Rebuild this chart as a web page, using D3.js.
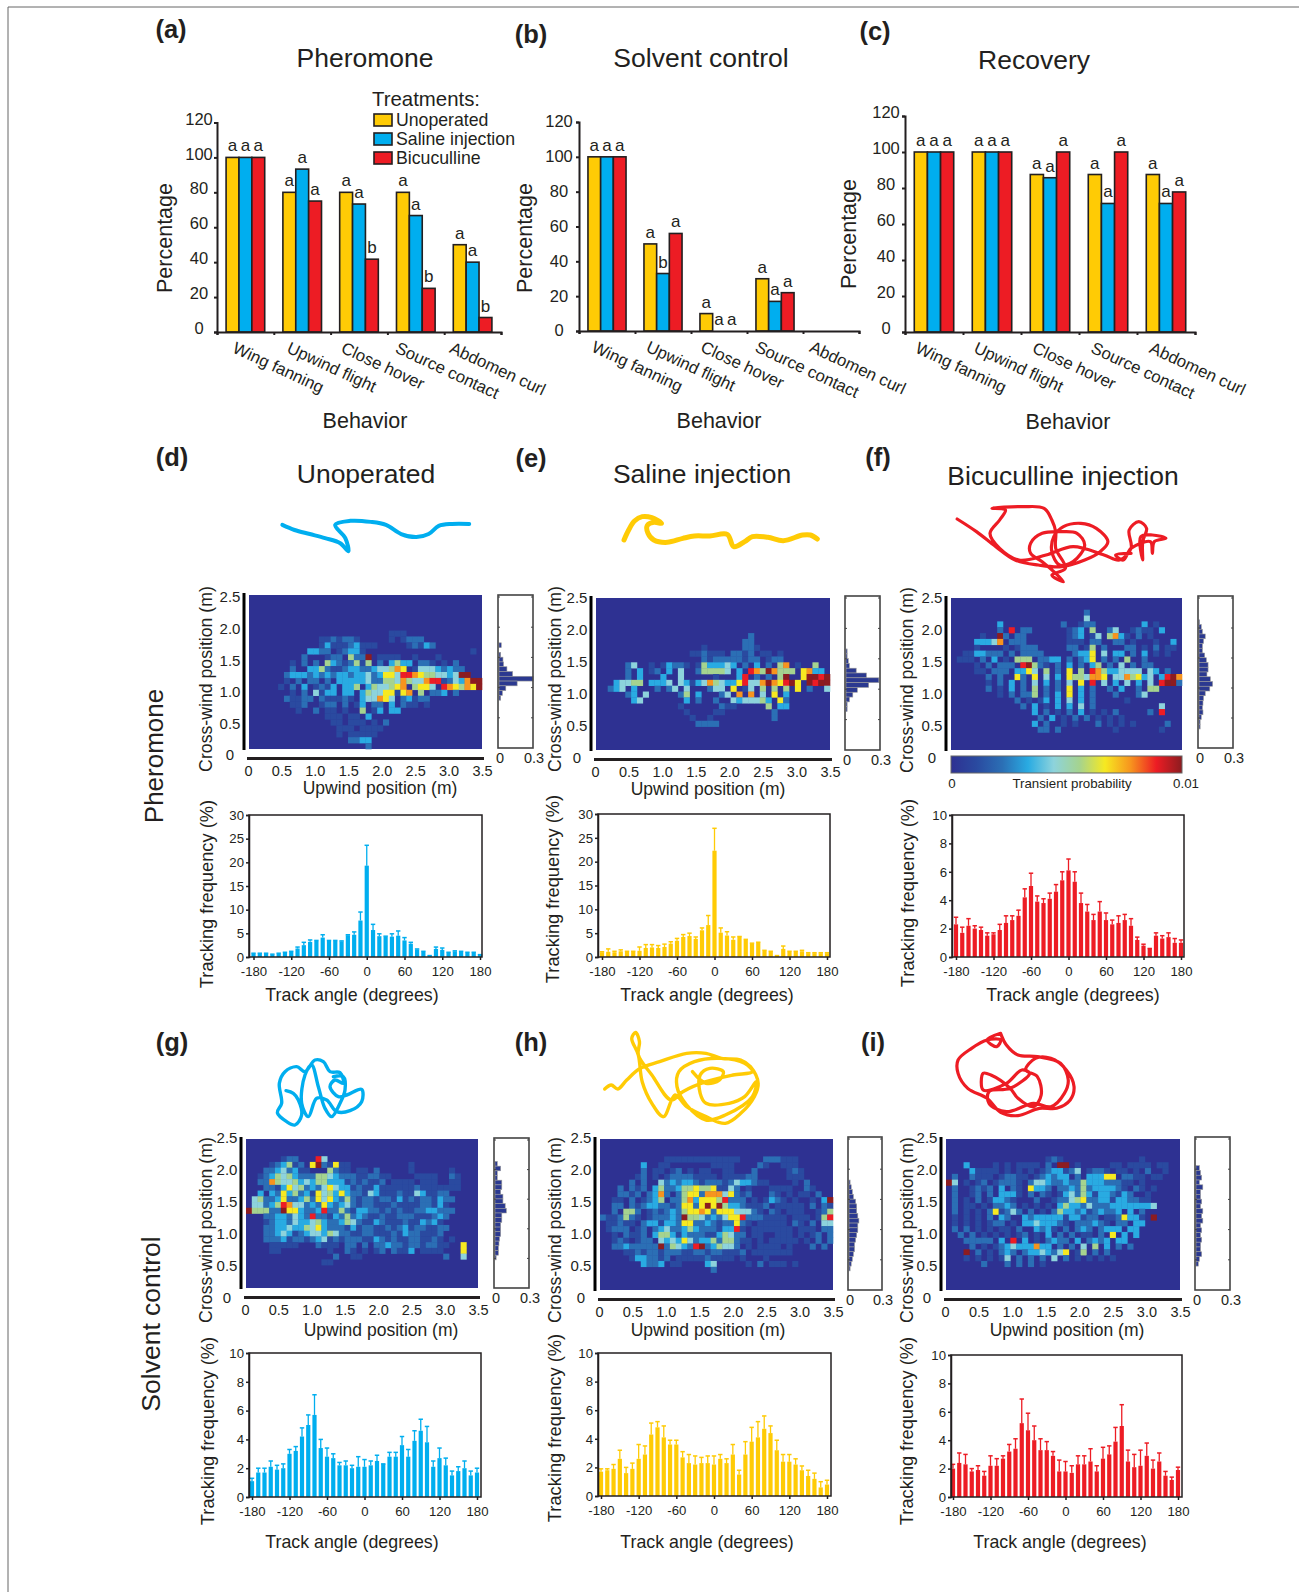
<!DOCTYPE html>
<html>
<head>
<meta charset="utf-8">
<script src="https://cdn.jsdelivr.net/npm/d3@7"></script>
<style>
    html, body { margin: 0; padding: 0; background: #fff; }
    text { font-family: "Liberation Sans", Arial, sans-serif; fill: #231f20; }
</style>
</head>
<body>
<div id="chart"></div>
<script>
// ---- bar chart data (panels a, b, c)
const behaviors = ["Wing fanning", "Upwind flight", "Close hover", "Source contact", "Abdomen curl"];
const treatments = ["Unoperated", "Saline injection", "Bicuculline"];
const percentTicks = [0, 20, 40, 60, 80, 100, 120];

const pheromoneUnoperated = [100, 80, 80, 80, 50];
const pheromoneSaline = [100, 93.3, 73.3, 66.7, 40];
const pheromoneBicuculline = [100, 75, 41.7, 25, 8.3];
const pheromoneLetters = ["aaa", "aaa", "aab", "aab", "aab"];

const solventUnoperated = [100, 50, 10, 30, 0];
const solventSaline = [100, 33, 0, 17, 0];
const solventBicuculline = [100, 56, 0, 22, 0];
const solventLetters = ["aaa", "aba", "aaa", "aaa", "   "];

const recoveryUnoperated = [100, 100, 87.5, 87.5, 87.5];
const recoverySaline = [100, 100, 85.7, 71.4, 71.4];
const recoveryBicuculline = [100, 100, 100, 100, 77.8];
const recoveryLetters = ["aaa", "aaa", "aaa", "aaa", "aaa"];

// ---- tracking frequency, one value per 10 degree bin from -180 to 180
const angleTicks = [-180, -120, -60, 0, 60, 120, 180];
const freqD = [.7,.7,.7,.5,.7,.9,1.1,1.8,2.5,3.2,3.4,4.1,3.4,3.4,3.3,4.6,4.7,7.7,19.3,5.7,4.4,4.3,4.3,4.5,3.5,2.8,1.6,1.1,.3,1.7,1.5,.9,1.2,1.1,.9,.9,.5];
const errD  = [.8,.8,.8,.6,.8,1,1.2,2.1,3.1,3.6,3.5,4.7,3.5,3.5,3.4,4.7,5.3,9.5,23.6,6.9,4.9,4.4,4.9,5.5,4.1,3.1,1.7,1.2,.3,2.1,1.9,1,1.3,1.2,1,1,.5];
const freqE = [1,1.1,1,1.2,1.1,1.1,1.3,1.9,2,1.9,2.1,2.8,3.4,4.2,4.4,3.8,5.6,6.7,22.3,5.1,4.5,3.6,4.3,3.6,2.8,3,1.3,1.1,.3,1.7,1.1,1.1,1.2,.8,.8,.8,.8];
const errE  = [1.1,1.7,1.2,1.5,1.2,1.2,2.1,2.6,2.6,2.4,2.7,3.2,3.9,4.7,5,4.2,6.1,8.7,27,6.1,5.3,4.2,4.3,3.7,2.9,3.1,1.4,1.2,.3,2.3,1.2,1.2,1.4,.9,.9,.9,.9];
const freqF = [2.3,1.7,2.2,2,1.9,1.5,1.6,1.9,2.4,2.6,2.9,4.2,5,3.9,3.8,4.1,4.6,5.4,6.1,5.3,3.8,3.2,2.6,3.2,2.6,2.3,2.4,2.6,2.2,1.2,.8,.6,1.5,1.3,1.4,1,1];
const errF  = [2.8,2.1,2.7,2.2,2.1,1.7,1.7,2.3,2.9,2.9,3.3,4.8,5.9,4.3,4.1,4.5,5.1,6,6.9,6,4.5,3.7,3,3.9,3.1,2.6,2.9,3,2.7,1.4,.9,.6,1.7,1.5,1.7,1.3,1.2];
const freqG = [1.1,1.7,1.7,2.1,1.9,2,3,3.2,4.2,5,5.7,3.4,2.8,2.7,2.2,2.2,2,2.1,2.1,2.2,2.5,2.3,2.8,2.8,3.6,2.8,3.9,4.6,3.8,2.1,2.7,2.2,1.5,1.8,2,1.5,1.7];
const errG  = [1.3,2,2,2.5,2.2,2.3,3.3,3.5,4.8,5.7,7.1,4,3.4,3,2.4,2.5,2.2,2.8,2.6,2.5,2.9,2.3,3.1,3.1,4.2,3.3,4.6,5.4,4.9,2.5,3.4,2.7,1.8,2.1,2.5,1.8,2];
const freqH = [1.7,1.8,1.9,2.6,1.6,1.9,2.6,2.9,4.3,4.8,4.1,3.6,3.6,2.7,2.3,2.2,2.3,2.3,2.2,2.6,2.3,2.9,1.5,2.9,3.8,4.1,4.7,4.4,3.2,2.4,2.4,2.2,1.8,1.4,1.2,.6,.8];
const errH  = [1.9,1.9,2.2,3.2,2,2.3,3.6,3.5,5.1,5.2,4.9,3.9,3.9,3.1,2.9,2.8,2.7,2.8,2.8,2.9,2.6,3.6,1.8,3.8,4.8,5.2,5.6,4.9,3.9,2.9,2.9,2.6,2.1,1.8,1.6,1,1.1];
const freqI = [2,2.4,2.3,1.8,1.9,1.5,2.2,2.2,2.7,3.2,3.4,5.2,4.7,4,3.3,3.3,2.9,1.8,1.8,1.7,2.3,2.3,2.5,1.8,2.7,3,3.9,5,2.5,2.1,2.2,2.9,2,2.5,1.5,1.2,1.9];
const errI  = [2.3,3.1,3,2,2.2,1.8,2.9,2.7,2.9,3.7,4.1,6.9,5.9,5,4.1,3.9,3.2,2.6,2.5,2.2,2.9,2.9,3.4,2.2,3.5,3.6,4.9,6.5,3.3,3,3.3,3.8,2.6,3.1,1.8,1.4,2.1];

// ---- transient probability maps, top row first, '.' = 0 and 1-9 = level on the colour bar
const mapD = [
"","","","","","",
"........................111.............",
"............1121221.....1.1222..........",
"............1311123111.....12132........",
"..........3322.12331..................1.",
".........2...122.5229.1111..1...1.......",
".......1.2.2.53212515.2.3533.221.1.2....",
".......2..33521123322344576.144432322...",
"......23332323233233423664887655443499..",
"......1.2.22.2.33333422554754478812437998",
".....1.2.3.1213.335.3544567.5664.8765769",
".......1.2.4133.33.354466167.5.223.2....",
"......21122.211121.344764.23122.........",
".......112..122.2.13.22.3.211.1.........",
"........1..2.11.1..5.13.33..............",
".............111.11.3...................",
"..............11.111.1.2................",
"...............111.1111.................",
"...............1.11111..................",
".................2233...................",
"....................2..................."
];
const mapE = [
"","","","","","",
"..........................2.............",
".........................22.............",
"..................1......221............",
"................112111.2212.11.1........",
"..................2122222122.122........",
".....24..1.13221.1533343.2.3.2.57.1..5..",
".....2.3.12.3.4..255554.3.87597555.6733.",
".....2.3...3..4.....1...38.2.2.59..69989",
"...34455.3334.431347543368447976896.9899",
"..234.3...2.24.4...244.6.14.5.5.5.6.2..4",
".....23.4.....25.3...24.7.7.4.6.3.......",
"......34.......3.2..2..4344453.62.......",
"..............1......211.....5.33......",
"...............1....11........2.........",
"................1..1..........2.........",
".................2222...................",
];
const mapF = [
"","",
".......................2................",
".......................4................",
"........3..........2..122........3.1....",
"........2.8.22......123.5..24..1211.3...",
".....1..92.22.......123.14.5731.2.1.....",
"....33347.222.......111.22..22.1...1..3.",
"....1....1.1222.....22.15.2...22.1.2.11.",
"..1133222.2.2222.....2336.4.33.2.3.1.1..",
".111.2.3.1.555.2233.2.236.2.2.5..2......",
"....1.2.222.89521.2.3.2.35.2.4.2.22.....",
"....11.222.3364.5.2.6.5.875334444.43.2..",
"......2.2..62.6.4.3.6554776.4475634.3897",
"......1.2.3.2.4.3.2.4.6.8.4.3.4.3.4.8992",
"......2.1.3.2.5.2.2.6.3.2..2.3..2.55....",
"........1.2.225.2.3.6.3.2...2...24......",
"...........2.1.13.3.4.3.2.....1.........",
"............2.3.1.3.3.4.2...........4...",
"..............3.2.1.2.3.1.1.2.....2.8...",
"...............2.3.1.2.2.1.1.1..........",
"..............3.2..1.1...2.1.1.1.....2..",
"...............22.2.........1.......1...",
];
const mapG = [
"","","",
"......122...84..........................",
"....123512.6921611..........1...........",
"...22342311...5211.11.2.....1......1....",
"..12354532225543222112211....1111..21...",
"..2275445343553331212112.1111.111..11...",
"...2213645232464331211311111121111111...",
"..3.3263523164536322143111211431122.....",
".45223622352646325212212213121221322....",
".4423587442326323421221112111122131.....",
"955522966322382252133221212112233222....",
"...22332432822132523211211222111232.....",
"...1233243345322354211321112113231......",
"...22334335463222131221121231221122.....",
"...2234312344354221122111213221112......",
"...2223122123412122211321211221121.1....",
"....11111...2111.22.2.2232212212211..6..",
"....11........1..21.1.12.2113.1111...6..",
"...............2..11..............2..4..",
".............11.........................",
];
const mapH = [
"","","",
"...........1111111111111....222111......",
".......3..11.......1111....21..111......",
".......2.11.12.1.11..11...2.....121.....",
"......12.1.122221111.111122.....111.....",
".....2.2..4232332122212433211....1.2....",
"...2.212.352235565561142.1...1111..21...",
"...2212.2372.2566277746212...21.1.11.2..",
"..11.2.1235.2257366658222.1.1321.1..1.39",
"..22.212332212662696953321112.11111.2.21",
"..2.552.12123256676266644421.21.111..125",
"2112521.122232955423246682221111.111.158",
".11211.2331332662232122621.11111.21.2.44",
".1222.12.2342235322213381.1111111.111.22",
"..1.2112.3553132221135422.11..111.1.12.2",
"..121.122.4343642335255211.1.11111.1.2.2",
"..2232222292543289235442.1.1111.1...2.2.",
"....112122122211221221112.1111111.......",
".....1332212.1111121111.1...1...........",
".......3223.11....34.....1.2.111.1......",
"...................2....................",
];
const mapI = [
"","","",
".................121.............1......",
"...3....1.1.1111.2.99.1.....11.1111.11..",
"....31111.1.1.1.1233124.1221.11.1.2..1..",
".2..2111.12211.123233.2.33366.2211.11...",
"94.1.12.12221.244322322533322211.1......",
".2..1212.3.21.6332.223252333321.21.1....",
".2..12.2.3331.2.21.1342531332132..1.....",
".2.1.2.13321...2..12245622331332211.....",
".2.11.1.2232.1.1.1.35332422233333334....",
".2.1.1.261242.2.1.253323123223.3.2......",
".1.1.1.2.32..3233333133122.1126331.9....",
".1.1.1.122.1.33433321.222321.22.33......",
".2.2.1.1.11.2..3231.2.232.2333.33.......",
"..2.2.1.1.1.12.1.3.2.2.11.2.6.3.3.......",
"...22222.3.8.3.1.2322.3.2323.33.........",
"....2.1.1234333733.2.2.4.5.3.2.2........",
"...9.2.1.232.23343246.15.2.2............",
"...1.1.1.14.2.2.2.4.2.1.1.1.1...........",
"......2...2.2.2.1.......................",
];

// ---- side histograms, share of time per cross-wind bin, top bin first
const histD = [0,0,0,0,0,0,0,0,0,0,.02,0,.015,.035,.04,.07,.12,.3,.16,.06,.03,.015,0,0,0,0,0,0,0,0,0,0];
const histE = [0,0,0,0,0,0,0,0,0,0,0,.01,.01,.02,.03,.09,.18,.29,.2,.1,.06,.03,.01,.01,0,0,0,0,0,0,0,0];
const histF = [0,0,0,0,0,.005,.02,.03,.055,.04,.03,.03,.05,.065,.08,.08,.07,.1,.12,.095,.055,.04,.035,.03,.035,.02,.01,.01,0,0,0,0];
const histG = [0,0,0,0,0,.02,.05,.02,.02,.06,.06,.05,.07,.07,.09,.1,.06,.06,.05,.05,.05,.04,.035,.03,.03,.01,0,0,0,0,0,0];
const histH = [0,0,0,0,0,0,0,0,0,.01,.02,.03,.04,.06,.07,.07,.08,.09,.08,.08,.07,.06,.05,.05,.04,.03,.02,.01,0,0,0,0];
const histI = [0,0,0,0,0,0,.03,.04,.05,.03,.06,.04,.04,.05,.04,.06,.05,.06,.04,.05,.04,.05,.04,.04,.05,.03,.02,0,0,0,0,0];

// ---- flight tracks, traced points
const trackD = [[278,517],[290,522],[305,526],[320,530],[335,535],[343,543],[340,530],[330,517],[345,513],[365,514],[380,517],[395,526],[410,529],[422,526],[432,518],[445,516],[462,516]];
const trackE = [[88,105],[100,75],[115,48],[135,35],[160,38],[185,55],[165,52],[148,62],[150,85],[165,105],[200,112],[240,100],[270,93],[310,93],[355,88],[372,125],[400,110],[420,95],[460,97],[500,107],[550,90],[570,90],[588,102]];
const trackF = [[960,42],[1010,80],[1060,125],[1110,165],[1170,180],[1230,185],[1290,165],[1330,140],[1350,110],[1320,70],[1280,55],[1235,65],[1210,95],[1205,140],[1225,180],[1260,170],[1290,120],[1270,85],[1230,80],[1180,85],[1150,115],[1150,145],[1180,170],[1215,205],[1235,230],[1205,210],[1240,190],[1215,130],[1215,80],[1205,45],[1185,10],[1130,5],[1050,10],[1085,15],[1070,45],[1045,85],[1070,130],[1120,165],[1190,150],[1260,125],[1340,150],[1380,165],[1410,130],[1405,75],[1430,50],[1450,70],[1440,110],[1440,165],[1435,95],[1465,90],[1500,100],[1470,110],[1465,145],[1460,110],[1410,130],[1390,165],[1370,150],[1410,145]];
const trackG = [[318,212],[340,220],[355,240],[365,285],[345,315],[320,305],[292,278],[305,250],[298,190],[315,155],[350,140],[375,155],[405,120],[430,125],[450,155],[480,158],[490,190],[465,180],[450,200],[475,230],[500,225],[545,208],[545,245],[510,272],[470,275],[440,240],[410,235],[385,290],[365,250],[375,165],[395,135],[415,200],[435,265],[455,290],[480,250],[495,210],[490,170],[460,170]];
const trackH = [[38,192],[55,180],[72,192],[95,165],[130,130],[180,110],[250,85],[300,85],[340,100],[390,105],[415,125],[435,175],[425,215],[390,265],[350,295],[300,275],[250,245],[220,210],[190,275],[160,235],[135,170],[125,90],[108,40],[118,22],[128,50],[125,90],[160,150],[210,225],[240,200],[300,170],[370,150],[420,140],[400,115],[340,100],[270,110],[230,140],[225,185],[250,240],[300,285],[350,270],[420,215],[430,170],[400,215],[360,235],[300,235],[285,205],[285,150],[310,130],[345,140],[335,165],[300,175],[265,140]];
const trackI = [[1075,25],[1040,45],[1065,65],[1075,45],[1040,45],[1000,70],[965,105],[965,145],[990,190],[1040,220],[1075,262],[1120,272],[1175,250],[1220,250],[1255,225],[1265,185],[1245,135],[1205,100],[1165,100],[1140,135],[1170,155],[1180,210],[1160,245],[1120,220],[1100,190],[1050,150],[1030,145],[1030,195],[1090,175],[1130,135],[1150,145],[1100,190],[1045,200],[1045,235],[1090,260],[1160,235],[1205,245],[1240,205],[1250,165],[1230,115],[1170,95],[1120,90],[1090,60],[1075,25]];

const yellow = "#ffcb05", blue = "#00aeef", red = "#ed1c24", ink = "#231f20";
const barColors = [yellow, blue, red];

const W = 1299, H = 1592;
const svg = d3.select("#chart").append("svg").attr("width", W).attr("height", H);

// colour bar stops
const heatLevels = [0, 1, 2, 3, 4, 5, 6, 7, 8, 9];
const heatStops = ["#2e3192", "#2a4aa0", "#2b6fb5", "#29abe2", "#8dd3dc", "#a5d38f", "#f6e921", "#f7941e", "#ed1c24", "#8c1c20"];
const heatColor = d3.scaleLinear().domain(heatLevels).range(heatStops);

function label(txt, x, y, size, opts = {}) {
    return svg.append("text")
        .attr("transform", `translate(${x},${y}) rotate(${opts.rotate || 0})`)
        .attr("text-anchor", opts.anchor || "middle")
        .attr("dy", opts.dy === undefined ? "0.35em" : opts.dy)
        .attr("font-size", size)
        .attr("font-weight", opts.weight || "normal")
        .text(txt);
}

function styleAxis(g, width, size) {
    g.selectAll("path, line").attr("stroke", ink).attr("stroke-width", width);
    g.selectAll("text").attr("font-size", size);
}

// frame round the page
svg.append("path").attr("d", `M8,${H}V7H${W}`).attr("fill", "none").attr("stroke", "#666").attr("stroke-width", 1);

function drawBars(p) {
    const x = d3.scaleBand().domain(behaviors).range([p.x0, p.x1]).paddingInner(0.32).paddingOuter(0.16);
    const inner = d3.scaleBand().domain([0, 1, 2]).range([0, x.bandwidth()]);
    const y = d3.scaleLinear().domain([0, 120]).range([p.y0, p.y1]);
    const g = svg.append("g");

    p.series.forEach((values, s) => {
        const bars = behaviors.map((b, i) => ({b, v: values[i]})).filter(d => d.v > 0);
        g.selectAll(null).data(bars).enter().append("rect")
            .attr("x", d => x(d.b) + inner(s))
            .attr("y", d => y(d.v))
            .attr("width", inner.bandwidth())
            .attr("height", d => y(0) - y(d.v))
            .attr("fill", barColors[s])
            .attr("stroke", ink)
            .attr("stroke-width", 1.6);
    });
    // significance letters
    p.letters.forEach((str, b) => {
        str.split("").forEach((ch, s) => {
            g.append("text")
                .attr("x", x(behaviors[b]) + inner(s) + inner.bandwidth() / 2)
                .attr("y", y(p.series[s][b]) - 6)
                .attr("text-anchor", "middle")
                .attr("font-size", 17)
                .text(ch);
        });
    });

    const ax = svg.append("g").attr("transform", `translate(${p.x0},0)`)
        .call(d3.axisLeft(y).tickValues(percentTicks).tickSize(3).tickPadding(1));
    styleAxis(ax, 2, 16.5);
    // tick labels are centred in a column in the original, not right aligned
    ax.selectAll("text").attr("dy", p.tickDy).attr("text-anchor", "middle").attr("x", p.tickX);
    const bottom = svg.append("g").attr("transform", `translate(0,${p.y0})`)
        .call(d3.axisBottom(d3.scalePoint().domain(d3.range(6)).range([p.x0, p.x1])).tickSize(3).tickFormat(""));
    styleAxis(bottom, 2, 10);

    behaviors.forEach((b, i) => {
        label(b, x(b) + p.nameDx + p.nameStep * i, p.y0 + 20, 16.8, {anchor: "start", rotate: 25, dy: 0});
    });
    label("Percentage", p.labelX, p.labelY, 21.5, {rotate: -90});
    label("Behavior", p.behaviorX, p.behaviorY, 21.5);
}

function drawHeat(p) {
    const cols = d3.range(40), rows = d3.range(26);
    const x = d3.scaleBand().domain(cols).range([p.x0, p.x1]);
    const y = d3.scaleBand().domain(rows).range([p.y0, p.y1]);
    svg.append("rect").attr("x", p.x0).attr("y", p.y0).attr("width", p.x1 - p.x0).attr("height", p.y1 - p.y0).attr("fill", heatStops[0]);
    const cells = [];
    p.map.forEach((str, r) => str.split("").forEach((ch, c) => {
        if (ch !== "." && c < 40) cells.push({r, c, v: +ch});
    }));
    svg.append("g").selectAll("rect").data(cells).enter().append("rect")
        .attr("x", d => x(d.c)).attr("y", d => y(d.r))
        .attr("width", x.bandwidth() + 0.3).attr("height", y.bandwidth() + 0.3)
        .attr("fill", d => heatColor(d.v));

    const yAx = d3.scaleLinear().domain([0, 2.5]).range([p.tick0, p.tick25]);
    const ay = svg.append("g").attr("transform", `translate(${p.x0 - 5},0)`)
        .call(d3.axisLeft(yAx).tickValues([0, .5, 1, 1.5, 2, 2.5]).tickSize(0).tickPadding(3).tickFormat(d => d === 0 ? "0" : d3.format(".1f")(d)));
    ay.select("path").attr("stroke-width", 3).attr("d", `M0,${p.y0 - 2}V${p.y1 + 1}`);
    ay.selectAll("text").attr("font-size", 15).attr("text-anchor", "middle").attr("x", -14);
    ay.selectAll("line").remove();

    if (p.xAxis !== false) {
        const xAx = d3.scaleLinear().domain([0, 3.5]).range([p.x0 - 1, p.x1]);
        const ax = svg.append("g").attr("transform", `translate(0,${p.y1 + 9})`)
            .call(d3.axisBottom(xAx).tickValues([0, .5, 1, 1.5, 2, 2.5, 3, 3.5]).tickSize(2).tickPadding(6).tickFormat(d => d === 0 ? "0" : d3.format(".1f")(d)));
        ax.select("path").attr("stroke-width", 3).attr("stroke", ink);
        ax.selectAll("line").attr("stroke", ink);
        ax.selectAll("text").attr("font-size", 14.5);
        label("Upwind position (m)", p.upX, p.y1 + p.upDy, 17.5);
    }
    label("Cross-wind position (m)", p.x0 + p.crossDx, p.crossY, 17.7, {rotate: -90});
}

function drawHist(p) {
    const y = d3.scaleBand().domain(d3.range(32)).range([p.y0, p.y1]);
    const x = d3.scaleLinear().domain([0, .3]).range([p.x0 + 1, p.x1]);
    const bins = p.values.map((v, i) => ({v, i})).filter(d => d.v > 0);
    svg.append("g").selectAll("rect").data(bins).enter().append("rect")
        .attr("x", x(0))
        .attr("y", d => y(d.i))
        .attr("width", d => x(d.v) - x(0))
        .attr("height", y.bandwidth())
        .attr("fill", "#2b3990")
        .attr("stroke", "#9a9a9a")
        .attr("stroke-width", 0.6);
    svg.append("rect").attr("x", p.x0).attr("y", p.y0).attr("width", p.x1 - p.x0).attr("height", p.y1 - p.y0)
        .attr("fill", "none").attr("stroke", "#444").attr("stroke-width", 1.6);
    const ty = d3.scaleLinear().domain([0, 2.5]).range([p.y1, p.y0 + 2]);
    [0.5, 1, 1.5, 2, 2.5].forEach(v => {
        svg.append("line").attr("x1", p.x1 - 2).attr("x2", p.x1).attr("y1", ty(v)).attr("y2", ty(v)).attr("stroke", "#444");
        svg.append("line").attr("x1", p.x0).attr("x2", p.x0 + 2).attr("y1", ty(v)).attr("y2", ty(v)).attr("stroke", "#444");
    });
    label("0", p.x0 + 2, p.y1 + 10, 14.5);
    label("0.3", p.x1 + 1, p.y1 + 10, 14.5);
}

function drawFreq(p) {
    const x = d3.scaleLinear().domain([-180, 180]).range([p.a0, p.a1]);
    const y = d3.scaleLinear().domain([0, p.max]).range([p.y1, p.y0]);
    const bins = p.values.map((v, i) => ({v, e: p.err[i], a: -180 + i * 10}));
    const g = svg.append("g");
    g.selectAll(".err").data(bins).enter().append("line")
        .attr("x1", d => x(d.a)).attr("x2", d => x(d.a))
        .attr("y1", d => y(d.v)).attr("y2", d => y(d.e))
        .attr("stroke", p.color).attr("stroke-width", 1.3);
    g.selectAll(".cap").data(bins).enter().append("line")
        .attr("x1", d => x(d.a) - 2.2).attr("x2", d => x(d.a) + 2.2)
        .attr("y1", d => y(d.e)).attr("y2", d => y(d.e))
        .attr("stroke", p.color).attr("stroke-width", 1.5);
    g.selectAll(".bar").data(bins).enter().append("rect")
        .attr("x", d => x(d.a) - 2.1)
        .attr("y", d => y(d.v))
        .attr("width", 4.2)
        .attr("height", d => y(0) - y(d.v))
        .attr("fill", p.color);

    svg.append("rect").attr("x", p.x0).attr("y", p.y0).attr("width", p.x1 - p.x0).attr("height", p.y1 - p.y0)
        .attr("fill", "none").attr("stroke", ink).attr("stroke-width", 1.5);
    const ay = svg.append("g").attr("transform", `translate(${p.x0},0)`)
        .call(d3.axisLeft(y).ticks(p.max === 30 ? 6 : 5).tickSize(3).tickPadding(2));
    styleAxis(ay, 1.5, 13.2);
    const ax = svg.append("g").attr("transform", `translate(0,${p.y1})`)
        .call(d3.axisBottom(x).tickValues(angleTicks).tickSize(3).tickPadding(7).tickFormat(d => String(d)));
    styleAxis(ax, 1.5, 13.2);
    ax.select("path").remove();

    label("Track angle (degrees)", p.angleX, p.angleY, 17.8);
    label("Tracking frequency (%)", p.freqX, p.freqY, 18.3, {rotate: -90});
}

function drawTrack(pts, t) {
    const sx = d3.scaleLinear().domain(t.dx).range(t.rx);
    const sy = d3.scaleLinear().domain(t.dy).range(t.ry);
    const line = d3.line().x(d => sx(d[0])).y(d => sy(d[1])).curve(d3.curveCatmullRom.alpha(0.5));
    svg.append("path").attr("d", line(pts)).attr("fill", "none")
        .attr("stroke", t.color).attr("stroke-width", t.width)
        .attr("stroke-linecap", "round").attr("stroke-linejoin", "round");
}

// ---- panels a, b, c
drawBars({x0: 217, x1: 501, y0: 332, y1: 122.5, series: [pheromoneUnoperated, pheromoneSaline, pheromoneBicuculline], letters: pheromoneLetters, labelX: 164, labelY: 238, behaviorX: 365, behaviorY: 420, nameDx: 5.5, nameStep: -2.6, tickDy: "0.1em", tickX: -18});
drawBars({x0: 579, x1: 859, y0: 331, y1: 122, series: [solventUnoperated, solventSaline, solventBicuculline], letters: solventLetters, labelX: 524, labelY: 238, behaviorX: 719, behaviorY: 420, nameDx: 2.5, nameStep: -1.5, tickDy: "0.3em", tickX: -20});
drawBars({x0: 905, x1: 1195, y0: 332, y1: 116, series: [recoveryUnoperated, recoverySaline, recoveryBicuculline], letters: recoveryLetters, labelX: 848, labelY: 234, behaviorX: 1068, behaviorY: 421, nameDx: 0, nameStep: 0.5, tickDy: "0.1em", tickX: -19});

// legend
const legend = svg.append("g");
label("Treatments:", 372, 99, 20.4, {anchor: "start"});
treatments.forEach((t, i) => {
    const ly = d3.scaleBand().domain(treatments).range([111, 168]);
    legend.append("rect").attr("x", 374).attr("y", ly(t) + 3).attr("width", 18).attr("height", 12)
        .attr("fill", barColors[i]).attr("stroke", ink).attr("stroke-width", 1.6);
    label(t, 396, ly(t) + 9, 17.7, {anchor: "start"});
});

// ---- heat maps + side histograms
drawHeat({map: mapD, x0: 249, x1: 482, y0: 595, y1: 749, tick0: 755, tick25: 597, upX: 380, upDy: 39, crossDx: -43, crossY: 679});
drawHeat({map: mapE, x0: 596, x1: 830, y0: 598, y1: 750, tick0: 758, tick25: 598, upX: 708, upDy: 39, crossDx: -41, crossY: 679});
drawHeat({map: mapF, x0: 951, x1: 1182, y0: 598, y1: 750, tick0: 758, tick25: 598, xAxis: false, crossDx: -44, crossY: 680});
drawHeat({map: mapG, x0: 246, x1: 478, y0: 1139, y1: 1288, tick0: 1298, tick25: 1138, upX: 381, upDy: 42, crossDx: -40, crossY: 1230});
drawHeat({map: mapH, x0: 600, x1: 833, y0: 1139, y1: 1290, tick0: 1298, tick25: 1138, upX: 708, upDy: 40, crossDx: -45, crossY: 1230});
drawHeat({map: mapI, x0: 946, x1: 1180, y0: 1139, y1: 1290, tick0: 1298, tick25: 1138, upX: 1067, upDy: 40, crossDx: -39, crossY: 1230});

drawHist({values: histD, x0: 498, x1: 533, y0: 595, y1: 748});
drawHist({values: histE, x0: 845, x1: 880, y0: 596, y1: 750});
drawHist({values: histF, x0: 1198, x1: 1233, y0: 596, y1: 748});
drawHist({values: histG, x0: 494, x1: 529, y0: 1138, y1: 1288});
drawHist({values: histH, x0: 848, x1: 882, y0: 1137, y1: 1290});
drawHist({values: histI, x0: 1195, x1: 1230, y0: 1137, y1: 1290});

// colour bar under panel f
const defs = svg.append("defs");
const grad = defs.append("linearGradient").attr("id", "heatGrad");
heatLevels.forEach((l, i) => grad.append("stop").attr("offset", l / 9).attr("stop-color", heatStops[i]));
svg.append("rect").attr("x", 951).attr("y", 756).attr("width", 231).attr("height", 17)
    .attr("fill", "url(#heatGrad)").attr("stroke", "#666");
label("0", 952, 783, 13.3);
label("Transient probability", 1072, 783, 13.3);
label("0.01", 1186, 783, 13.3);

// ---- tracking frequency
drawFreq({values: freqD, err: errD, color: blue, max: 30, x0: 249, x1: 482, y0: 815, y1: 957, a0: 253.5, a1: 480, angleX: 352, angleY: 995, freqX: 207, freqY: 894});
drawFreq({values: freqE, err: errE, color: yellow, max: 30, x0: 598, x1: 830, y0: 814, y1: 957, a0: 602, a1: 827, angleX: 707, angleY: 995, freqX: 553, freqY: 889});
drawFreq({values: freqF, err: errF, color: red, max: 10, x0: 952, x1: 1184, y0: 815, y1: 957, a0: 956, a1: 1181, angleX: 1073, angleY: 995, freqX: 908, freqY: 893});
drawFreq({values: freqG, err: errG, color: blue, max: 10, x0: 249, x1: 481, y0: 1353, y1: 1497, a0: 252, a1: 477, angleX: 352, angleY: 1542, freqX: 208, freqY: 1431});
drawFreq({values: freqH, err: errH, color: yellow, max: 10, x0: 598, x1: 831, y0: 1353, y1: 1496, a0: 601, a1: 827, angleX: 707, angleY: 1542, freqX: 555, freqY: 1428});
drawFreq({values: freqI, err: errI, color: red, max: 10, x0: 951, x1: 1182, y0: 1355, y1: 1497, a0: 953, a1: 1178, angleX: 1060, angleY: 1542, freqX: 907, freqY: 1431});

// ---- flight tracks (each traced in its own crop units)
const shown = {dx: [0, 1279], rx: [0, 1299], dy: [0, 1568], ry: [0, 1592]};
const row1 = {dx: [0, 1552], rx: [590, 1190], dy: [0, 765], ry: [505, 760]};
const row2 = {dx: [0, 1552], rx: [590, 1190], dy: [0, 825], ry: [1025, 1300]};
drawTrack(trackD, {...shown, color: blue, width: 4});
drawTrack(trackE, {...row1, color: yellow, width: 5});
drawTrack(trackF, {...row1, rx: [586, 1186], color: red, width: 3.2});
drawTrack(trackG, {dx: [0, 1110], rx: [180, 550], dy: [0, 930], ry: [1020, 1330], color: blue, width: 3.4});
drawTrack(trackH, {...row2, color: yellow, width: 3.4});
drawTrack(trackI, {...row2, rx: [585, 1185], color: red, width: 3.2});

// ---- titles
[["Pheromone", 365, 58], ["Solvent control", 701, 58], ["Recovery", 1034, 60],
 ["Unoperated", 366, 474], ["Saline injection", 702, 474], ["Bicuculline injection", 1063, 476]]
    .forEach(t => label(t[0], t[1], t[2], 26.5));
label("Pheromone", 154, 756, 26, {rotate: -90});
label("Solvent control", 151, 1324, 26.5, {rotate: -90});

[["(a)", 171, 29], ["(b)", 531, 34], ["(c)", 875, 31], ["(d)", 172, 457], ["(e)", 531, 458], ["(f)", 878, 457],
 ["(g)", 172, 1042], ["(h)", 531, 1042], ["(i)", 873, 1042]]
    .forEach(t => label(t[0], t[1], t[2], 25.5, {weight: "bold"}));
</script>
</body>
</html>
